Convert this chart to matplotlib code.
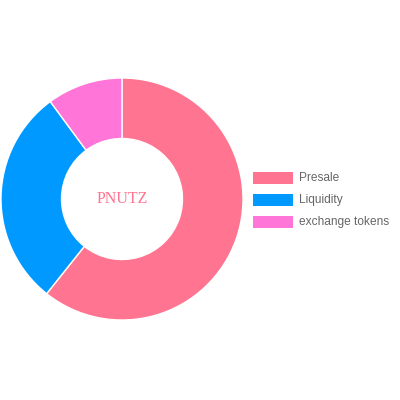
import matplotlib
matplotlib.use("Agg")
import matplotlib.pyplot as plt
from matplotlib.patches import Rectangle

labels = ["Presale", "Liquidity", "exchange tokens"]
values = [60.7, 29.2, 10.1]
colors = ["#FF7490", "#0099FF", "#FF75D8"]
center_label = "PNUTZ"

fig = plt.figure(figsize=(4, 4), dpi=100)
ax = fig.add_axes([1/400, 80/400, 242/400, 242/400])
ax.pie(values, colors=colors, startangle=90, counterclock=False, radius=1,
       wedgeprops=dict(width=0.5, edgecolor="white", linewidth=1))
ax.set_xlim(-1, 1)
ax.set_ylim(-1, 1)
ax.set_aspect("equal")
ax.axis("off")
ax.text(0, 0, center_label, ha="center", va="center", fontsize=11.5,
        family="Liberation Serif", color="#FF7490")

for i, (lab, col) in enumerate(zip(labels, colors)):
    ytop = 172 + 22 * i
    fig.patches.append(Rectangle((253/400, 1 - (ytop + 12)/400), 40/400, 12/400,
                                 transform=fig.transFigure, facecolor=col, edgecolor="none"))
    fig.text(299/400, 1 - (ytop + 6)/400, lab, ha="left", va="center",
             fontsize=8.6, family="Liberation Sans", color="#666666")

fig.savefig("out.png", dpi=100)
